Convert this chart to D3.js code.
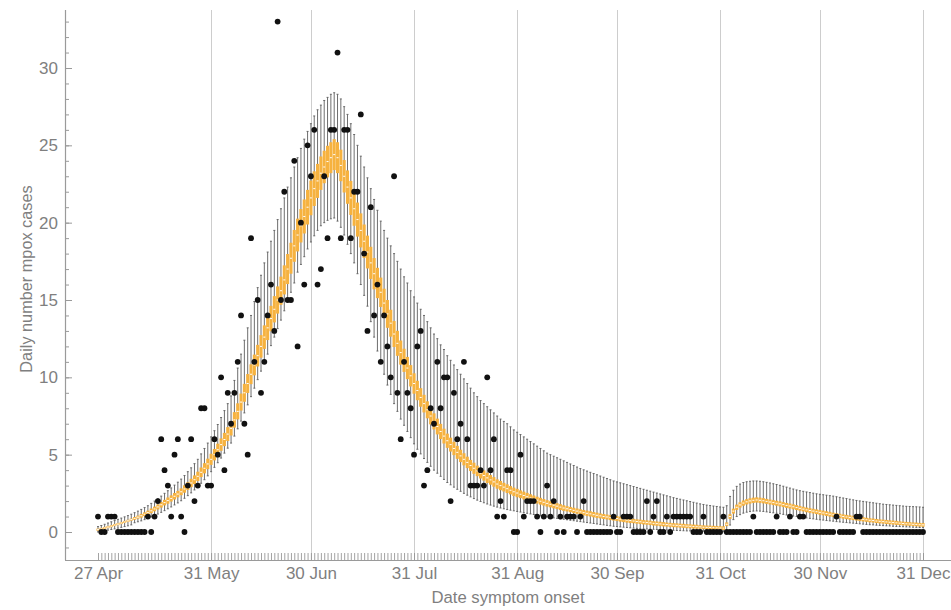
<!DOCTYPE html>
<html><head><meta charset="utf-8">
<script src="https://cdn.jsdelivr.net/npm/d3@7"></script>
<style>
body{margin:0;background:#fff}
svg{display:block}
text{font-family:"Liberation Sans",Arial,sans-serif}
</style>
</head><body>
<svg id="c" width="951" height="610"></svg>
<script>
// ---------------- DATA ----------------
const startDate = "2022-04-27";
const endDate = "2022-12-31";
const tickDates = ["2022-04-27","2022-05-31","2022-06-30","2022-07-31","2022-08-31","2022-09-30","2022-10-31","2022-11-30","2022-12-31"];
const tickLabels = ["27 Apr","31 May","30 Jun","31 Jul","31 Aug","30 Sep","31 Oct","30 Nov","31 Dec"];
const yMajor = [0,5,10,15,20,25,30];
const xTitle = "Date symptom onset";
const yTitle = "Daily number mpox cases";

// observed daily cases (one per day from 27 Apr)
const observed = [
1,0,0,1,1,1,0,0,0,0,
0,0,0,0,0,1,0,1,2,6,
4,3,1,5,6,1,0,3,6,2,
3,8,8,3,3,6,5,10,4,9,
7,9,11,14,7,5,19,11,15,9,
11,14,16,13,33,15,22,15,15,24,
12,20,16,25,23,26,16,17,23,19,
26,26,31,19,26,26,19,22,22,27,
18,13,21,14,16,11,14,12,10,23,
9,6,11,9,8,5,12,13,3,4,
8,7,11,8,10,10,2,9,6,7,
11,6,3,3,3,4,3,10,4,6,
1,2,1,4,4,0,0,5,1,2,
2,2,1,0,1,3,1,2,0,1,
0,1,1,1,0,1,2,0,0,0,
0,0,0,0,0,1,0,0,1,1,
1,0,0,0,0,2,0,1,2,0,
0,1,0,1,1,1,1,1,1,0,
0,0,1,0,0,0,0,0,1,0,
0,0,0,0,0,0,0,1,0,0,
0,0,0,0,1,0,0,0,1,0,
0,1,1,0,0,0,0,0,0,0,
0,0,1,0,0,0,0,0,1,1,
0,0,0,0,0,0,0,0,0,0,
0,0,0,0,0,0,0,0,0
];

// model box-whisker per day: median, quartiles, whisker ends
const med = [
0.15,0.2,0.26,0.32,0.38,0.45,0.51,0.58,0.65,0.72,0.8,
0.88,0.96,1.05,1.15,1.25,1.37,1.49,1.62,1.76,1.9,
2.03,2.17,2.31,2.45,2.6,2.78,2.97,3.17,3.38,3.6,
3.86,4.12,4.4,4.7,5.0,5.32,5.65,5.98,6.33,6.7,
7.25,7.8,8.4,9.0,9.6,10.2,10.8,11.4,12.0,12.6,
13.2,13.8,14.4,15.0,15.6,16.3,17.0,17.7,18.5,19.2,
19.8,20.4,21.0,21.6,22.2,22.7,23.2,23.6,23.95,24.2,24.4,
24.2,23.7,23.0,22.3,21.6,20.9,20.2,19.5,18.8,18.1,17.4,16.7,16.1,15.5,
14.8,14.1,13.5,12.8,12.2,11.6,11.1,10.6,10.1,9.6,9.15,8.7,8.3,7.9,7.5,
7.15,6.82,6.5,6.2,5.9,5.65,5.4,5.15,4.92,4.7,
4.5,4.3,4.12,3.95,3.8,3.65,3.5,3.37,3.24,3.1,
3.0,2.9,2.8,2.7,2.6,2.52,2.44,2.36,2.28,2.2,
2.13,2.06,1.99,1.92,1.85,1.79,1.73,1.67,1.61,1.55,
1.5,1.45,1.4,1.35,1.3,1.25,1.21,1.17,1.12,1.08,
1.04,1.0,0.97,0.93,0.9,0.87,0.83,0.8,0.77,0.74,
0.71,0.68,0.66,0.63,0.61,0.59,0.56,0.54,0.52,0.5,
0.48,0.46,0.44,0.43,0.41,0.4,0.38,0.37,0.35,0.34,
0.33,0.31,0.3,0.29,0.28,0.27,0.26,0.25,
0.5,1.0,1.35,1.6,1.75,1.87,1.95,2.01,2.05,2.07,2.05,2.02,
1.98,1.94,1.9,1.86,1.82,1.77,1.72,1.68,1.63,1.58,
1.53,1.48,1.43,1.39,1.35,1.31,1.27,1.23,1.19,1.15,
1.11,1.07,1.04,1.0,0.97,0.94,0.91,0.88,0.85,0.82,
0.79,0.76,0.74,0.71,0.69,0.67,0.65,0.63,0.61,0.59,
0.57,0.55,0.53,0.52,0.5,0.49,0.47,0.46
];
const q1 = [
0.08,0.13,0.19,0.25,0.31,0.38,0.44,0.51,0.58,0.65,0.73,
0.79,0.86,0.93,1.03,1.12,1.22,1.34,1.46,1.58,1.72,
1.83,1.97,2.1,2.24,2.38,2.54,2.72,2.9,3.1,3.3,
3.55,3.79,4.06,4.34,4.63,4.93,5.25,5.55,5.88,6.24,
6.75,7.28,7.85,8.42,8.99,9.56,10.13,10.7,11.27,11.84,
12.41,12.98,13.55,14.12,14.69,15.36,16.03,16.7,17.47,18.14,
18.72,19.3,19.88,20.48,21.08,21.6,22.12,22.55,22.93,23.2,23.4,
23.2,22.68,21.95,21.22,20.5,19.8,19.1,18.4,17.72,17.04,16.36,15.69,15.12,14.55,
13.87,13.2,12.63,11.96,11.39,10.82,10.35,9.88,9.41,8.94,8.52,8.1,7.73,7.35,6.96,
6.63,6.31,6.01,5.72,5.44,5.2,4.97,4.73,4.52,4.31,
4.13,3.94,3.76,3.61,3.46,3.32,3.17,3.06,2.93,2.8,
2.7,2.62,2.52,2.43,2.33,2.25,2.19,2.11,2.03,1.96,
1.9,1.84,1.77,1.71,1.64,1.59,1.53,1.48,1.42,1.37,
1.33,1.28,1.23,1.18,1.13,1.08,1.04,1.0,0.95,0.91,
0.88,0.84,0.81,0.77,0.74,0.71,0.67,0.64,0.61,0.58,
0.57,0.54,0.52,0.49,0.47,0.45,0.42,0.4,0.38,0.36,
0.35,0.33,0.31,0.3,0.28,0.27,0.25,0.24,0.22,0.21,
0.21,0.19,0.18,0.17,0.16,0.15,0.14,0.13,
0.38,0.85,1.19,1.43,1.58,1.7,1.78,1.84,1.88,1.9,1.88,1.85,
1.82,1.78,1.74,1.7,1.66,1.61,1.56,1.52,1.47,1.42,
1.38,1.33,1.28,1.24,1.2,1.16,1.12,1.08,1.04,1.0,
0.97,0.93,0.9,0.86,0.83,0.8,0.77,0.74,0.71,0.68,
0.66,0.63,0.61,0.58,0.56,0.54,0.52,0.5,0.48,0.46,
0.45,0.43,0.41,0.4,0.38,0.37,0.35,0.34
];
const q3 = [
0.22,0.27,0.33,0.39,0.45,0.52,0.58,0.65,0.72,0.79,0.87,
0.97,1.06,1.17,1.27,1.38,1.52,1.64,1.78,1.94,2.08,
2.23,2.37,2.52,2.66,2.82,3.02,3.22,3.44,3.66,3.9,
4.17,4.45,4.74,5.06,5.37,5.71,6.05,6.41,6.78,7.16,
7.75,8.32,8.95,9.58,10.21,10.84,11.47,12.1,12.73,13.36,
13.99,14.62,15.25,15.88,16.51,17.24,17.97,18.7,19.53,20.26,
20.88,21.5,22.12,22.72,23.32,23.8,24.28,24.65,24.97,25.2,25.4,
25.2,24.72,24.05,23.38,22.7,22.0,21.3,20.6,19.88,19.16,18.44,17.71,17.08,16.45,
15.73,15.0,14.37,13.64,13.01,12.38,11.85,11.32,10.79,10.26,9.78,9.3,8.87,8.45,8.04,
7.67,7.33,6.99,6.68,6.36,6.1,5.83,5.57,5.32,5.09,
4.87,4.66,4.48,4.29,4.14,3.98,3.83,3.68,3.55,3.4,
3.3,3.18,3.08,2.97,2.87,2.79,2.69,2.61,2.53,2.44,
2.36,2.28,2.21,2.13,2.06,1.99,1.93,1.86,1.8,1.73,
1.67,1.62,1.57,1.52,1.47,1.42,1.38,1.34,1.29,1.25,
1.2,1.16,1.13,1.09,1.06,1.03,0.99,0.96,0.93,0.9,
0.85,0.82,0.8,0.77,0.75,0.73,0.7,0.68,0.66,0.64,
0.61,0.59,0.57,0.56,0.54,0.53,0.51,0.5,0.48,0.47,
0.45,0.43,0.42,0.41,0.4,0.39,0.38,0.37,
0.62,1.15,1.51,1.77,1.92,2.04,2.12,2.18,2.22,2.24,2.22,2.19,
2.14,2.1,2.06,2.02,1.98,1.93,1.88,1.84,1.79,1.74,
1.68,1.63,1.58,1.54,1.5,1.46,1.42,1.38,1.34,1.3,
1.25,1.21,1.18,1.14,1.11,1.08,1.05,1.02,0.99,0.96,
0.92,0.89,0.87,0.84,0.82,0.8,0.78,0.76,0.74,0.72,
0.69,0.67,0.65,0.64,0.62,0.61,0.59,0.58
];
const lo = [
0.0,0.04,0.08,0.12,0.16,0.2,0.25,0.3,0.35,0.4,0.46,
0.6,0.66,0.72,0.8,0.88,0.97,1.06,1.16,1.27,1.38,
1.5,1.62,1.75,1.88,2.02,2.18,2.35,2.53,2.72,2.92,
3.15,3.38,3.63,3.9,4.18,4.48,4.78,5.1,5.42,5.75,
6.2,6.67,7.17,7.7,8.22,8.75,9.3,9.85,10.4,10.95,
11.5,12.05,12.6,13.15,13.7,14.3,14.9,15.5,16.1,16.8,
17.3,17.8,18.3,18.75,19.15,19.5,19.8,20.0,20.15,20.25,20.3,
20.1,19.7,19.2,18.6,18.0,17.4,16.7,16.0,15.3,14.6,13.6,12.6,11.7,10.9,
10.2,9.5,8.9,8.3,7.8,7.3,6.9,6.5,6.1,5.7,
5.35,5.05,4.75,4.5,4.25,4.0,3.8,3.6,3.4,3.2,
3.05,2.9,2.76,2.63,2.5,2.38,2.27,2.16,2.06,1.97,
1.89,1.81,1.74,1.67,1.61,1.55,1.5,1.45,1.41,1.37,
1.33,1.29,1.25,1.21,1.17,1.13,1.09,1.05,1.01,0.97,
0.94,0.91,0.88,0.85,0.82,0.79,0.76,0.73,0.7,0.67,
0.64,0.61,0.58,0.55,0.52,0.49,0.46,0.43,0.4,0.37,
0.35,0.33,0.31,0.29,0.27,0.25,0.23,0.21,0.2,0.19,
0.18,0.17,0.16,0.15,0.14,0.13,0.12,0.11,0.1,0.09,
0.08,0.07,0.07,0.06,0.06,0.05,0.05,0.04,0.04,0.03,0.03,0.02,0.02,
0.1,0.45,0.8,1.0,1.12,1.22,1.28,1.32,1.35,1.36,1.35,1.33,
1.3,1.27,1.24,1.21,1.18,1.14,1.1,1.07,1.03,1.0,
0.97,0.94,0.91,0.88,0.85,0.82,0.79,0.77,0.74,0.72,
0.7,0.67,0.65,0.63,0.61,0.59,0.57,0.55,0.53,0.51,
0.49,0.47,0.46,0.44,0.43,0.41,0.4,0.39,0.37,0.36,
0.35,0.34,0.33,0.32,0.31,0.3,0.29,0.28
];
const hi = [
0.35,0.42,0.5,0.58,0.66,0.74,0.82,0.9,0.98,1.06,1.15,
1.25,1.35,1.46,1.58,1.7,1.85,2.0,2.15,2.32,2.5,
2.67,2.85,3.03,3.22,3.42,3.65,3.9,4.15,4.42,4.7,
5.05,5.4,5.75,6.15,6.55,6.95,7.4,7.85,8.3,8.8,
9.8,10.6,11.5,12.4,13.2,14.0,14.9,15.8,16.6,17.4,
18.1,18.8,19.5,20.2,20.9,21.6,22.3,22.9,23.6,24.2,
24.8,25.4,25.9,26.4,26.9,27.3,27.6,27.9,28.1,28.3,28.4,
28.3,28.0,27.5,27.0,26.4,25.7,25.0,24.3,23.6,22.9,22.2,21.5,20.8,20.1,
19.5,19.0,18.5,18.0,17.5,17.0,16.5,16.1,15.6,15.2,
14.8,14.4,14.0,13.6,13.2,12.8,12.5,12.1,11.8,11.4,
11.1,10.8,10.5,10.2,9.9,9.6,9.3,9.0,8.75,8.5,
8.3,8.1,7.9,7.7,7.5,7.3,7.15,7.0,6.8,6.6,
6.45,6.3,6.15,6.0,5.85,5.7,5.55,5.4,5.25,5.1,
5.0,4.9,4.8,4.7,4.6,4.5,4.4,4.3,4.2,4.1,
4.02,3.94,3.86,3.78,3.7,3.62,3.54,3.46,3.38,3.3,
3.24,3.18,3.12,3.06,3.0,2.94,2.88,2.82,2.76,2.7,
2.64,2.58,2.52,2.46,2.4,2.34,2.28,2.22,2.17,2.12,
2.07,2.02,1.97,1.92,1.87,1.82,1.78,1.74,1.71,1.68,1.65,1.62,1.6,
1.7,2.3,2.7,2.95,3.1,3.2,3.25,3.28,3.3,3.3,3.28,3.25,
3.21,3.17,3.12,3.07,3.02,2.96,2.9,2.84,2.78,2.72,
2.67,2.63,2.59,2.55,2.51,2.47,2.44,2.41,2.38,2.35,
2.32,2.28,2.24,2.2,2.16,2.12,2.08,2.04,2.01,1.98,
1.95,1.92,1.89,1.86,1.83,1.8,1.78,1.76,1.74,1.72,
1.7,1.68,1.66,1.65,1.64,1.63,1.62,1.6
];

// ---------------- CHART ----------------
const W = 951, H = 610;
const plotLeft = 65, plotRight = 951, plotTop = 10, plotBottom = 560;
const textColor = "#7f7f7f", axisColor = "#9a9a9a", gridColor = "#cdcdcd";
const orange = "#f6b23f", whiskerColor = "#5e5e5e";

const parse = d3.utcParse("%Y-%m-%d");
const t0 = parse(startDate), t1 = parse(endDate);
const days = observed.map((_, i) => d3.utcDay.offset(t0, i));
const tickD = tickDates.map(parse);

const x = d3.scaleUtc().domain([t0, t1]).range([98, 923]);
const y = d3.scaleLinear().domain([0, 30]).range([532, 68]);

const svg = d3.select("#c");
svg.append("rect").attr("width", W).attr("height", H).attr("fill", "#fff");

// vertical grid lines
svg.append("g").selectAll("line").data(tickD.slice(1)).join("line")
  .attr("x1", d => Math.round(x(d)) + 0.5).attr("x2", d => Math.round(x(d)) + 0.5)
  .attr("y1", plotTop).attr("y2", plotBottom)
  .attr("stroke", gridColor).attr("stroke-width", 1);

const model = days.map((d, i) => ({d, lo: lo[i], q1: q1[i], med: med[i], q3: q3[i], hi: hi[i]}));

// whiskers
const wg = svg.append("g").attr("stroke", whiskerColor).attr("stroke-width", 0.9);
wg.selectAll("line.w").data(model).join("line").attr("class", "w")
  .attr("x1", m => x(m.d)).attr("x2", m => x(m.d))
  .attr("y1", m => y(m.hi)).attr("y2", m => y(m.lo));
wg.selectAll("line.ch").data(model).join("line").attr("class", "ch")
  .attr("x1", m => x(m.d) - 1).attr("x2", m => x(m.d) + 1)
  .attr("y1", m => y(m.hi)).attr("y2", m => y(m.hi));
wg.selectAll("line.cl").data(model).join("line").attr("class", "cl")
  .attr("x1", m => x(m.d) - 1).attr("x2", m => x(m.d) + 1)
  .attr("y1", m => y(m.lo)).attr("y2", m => y(m.lo));

// boxes
svg.append("g").selectAll("rect").data(model).join("rect")
  .attr("x", m => x(m.d) - 1.55).attr("width", 3.1)
  .attr("y", m => y(m.q3)).attr("height", m => Math.max(0.8, y(m.q1) - y(m.q3)))
  .attr("fill", orange);

// medians
svg.append("g").selectAll("line").data(model).join("line")
  .attr("x1", m => x(m.d) - 1).attr("x2", m => x(m.d) + 1)
  .attr("y1", m => y(m.med)).attr("y2", m => y(m.med))
  .attr("stroke", "#fff").attr("stroke-width", 1);

// observed points
svg.append("g").selectAll("circle").data(observed).join("circle")
  .attr("cx", (v, i) => x(days[i])).attr("cy", v => y(v))
  .attr("r", 2.9).attr("fill", "#111");

// x axis: daily ticks
const xDaily = svg.append("g").attr("transform", `translate(0,${plotBottom})`)
  .call(d3.axisBottom(x).tickValues(days).tickSize(-7).tickFormat(""));
xDaily.select(".domain").remove();
xDaily.selectAll(".tick line").attr("stroke", "#8c8c8c").attr("stroke-width", 0.8);

const xLab = svg.append("g").attr("transform", `translate(0,${plotBottom})`)
  .call(d3.axisBottom(x).tickValues(tickD).tickSize(0).tickPadding(7)
    .tickFormat((d, i) => tickLabels[i]));
xLab.select(".domain").remove();
xLab.selectAll("text").attr("fill", textColor).attr("font-size", 17)
  .attr("font-family", '"Liberation Sans",Arial,sans-serif');

svg.append("line").attr("x1", plotLeft).attr("x2", plotRight)
  .attr("y1", plotBottom + 0.5).attr("y2", plotBottom + 0.5)
  .attr("stroke", axisColor).attr("stroke-width", 1.2);

// y axis
const yMinorG = svg.append("g").attr("transform", `translate(${plotLeft},0)`)
  .call(d3.axisLeft(y).tickValues(d3.range(-1, 34)).tickSize(-4).tickFormat(""));
yMinorG.select(".domain").remove();
yMinorG.selectAll(".tick line").attr("stroke", axisColor);

const yMajG = svg.append("g").attr("transform", `translate(${plotLeft},0)`)
  .call(d3.axisLeft(y).tickValues(yMajor).tickSize(-7).tickPadding(7).tickFormat(d3.format("d")));
yMajG.select(".domain").remove();
yMajG.selectAll(".tick line").attr("stroke", axisColor);
yMajG.selectAll("text").attr("fill", textColor).attr("font-size", 17)
  .attr("font-family", '"Liberation Sans",Arial,sans-serif');

svg.append("line").attr("x1", plotLeft + 0.5).attr("x2", plotLeft + 0.5)
  .attr("y1", plotTop).attr("y2", plotBottom)
  .attr("stroke", axisColor).attr("stroke-width", 1.2);

// titles
svg.append("text").attr("x", (plotLeft + plotRight) / 2).attr("y", 603)
  .attr("text-anchor", "middle").attr("fill", textColor).attr("font-size", 16.7)
  .text(xTitle);
svg.append("text").attr("transform", "translate(32,279) rotate(-90)")
  .attr("text-anchor", "middle").attr("fill", textColor).attr("font-size", 16.3)
  .text(yTitle);
</script>
</body></html>
